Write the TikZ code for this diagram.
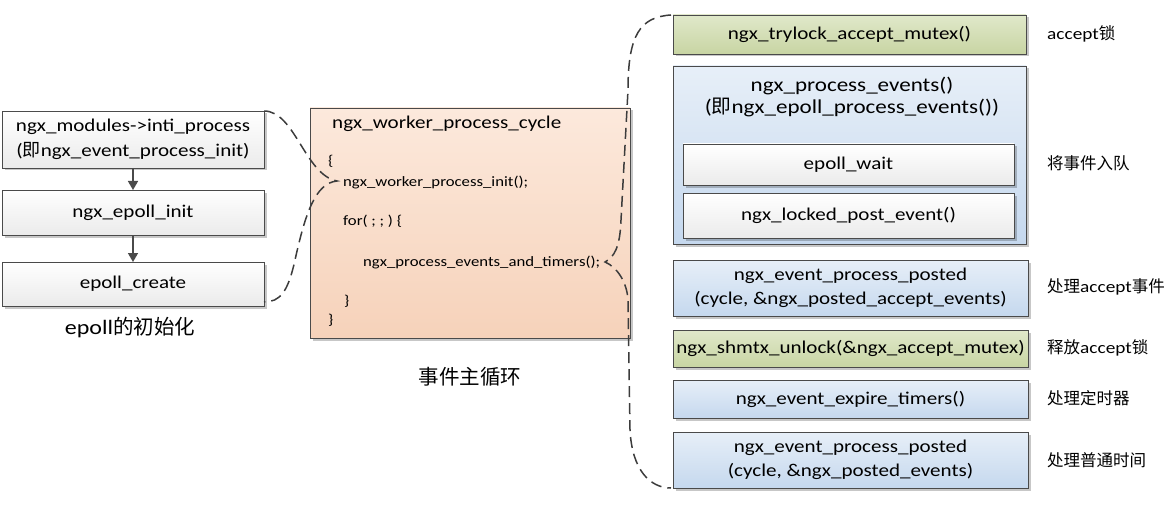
\documentclass[tikz,border=0pt]{standalone}
\usepackage{fontspec}
\setmainfont{Carlito}[FakeStretch=1.17]
\newfontfamily\cjk{Noto Sans CJK SC}
\newcommand{\zh}[1]{{\cjk #1}}
\usetikzlibrary{arrows.meta,shadows}
\definecolor{bordercol}{HTML}{4A4A4A}
\definecolor{dashcol}{HTML}{3C3C3C}
\begin{document}
\begin{tikzpicture}[x=1pt,y=-1pt,
  basebox/.style={draw=bordercol,line width=0.8pt,inner sep=0pt,outer sep=0pt,align=center,
    drop shadow={shadow xshift=2.5pt,shadow yshift=-2.5pt,fill=black,opacity=0.22},
    font=\fontsize{18}{24.5}\selectfont},
  graybox/.style={basebox,top color=white,bottom color=black!8},
  greenbox/.style={basebox,top color={rgb,255:red,224;green,232;blue,202},bottom color={rgb,255:red,200;green,213;blue,163}},
  bluebox/.style={basebox,top color={rgb,255:red,231;green,239;blue,248},bottom color={rgb,255:red,197;green,216;blue,238}},
  peachbox/.style={basebox,top color={rgb,255:red,252;green,233;blue,220},bottom color={rgb,255:red,246;green,210;blue,186}},
  codetext/.style={anchor=west,inner sep=0pt,font=\fontsize{14.3}{17}\selectfont},
  sidelabel/.style={anchor=west,inner sep=0pt,font=\fontsize{16.5}{19}\selectfont},
  biglabel/.style={inner sep=0pt,font=\fontsize{20.5}{24}\selectfont},
  flowarrow/.style={draw=bordercol,line width=1.6pt,-{Triangle[width=10pt,length=9pt]}},
  bracecurve/.style={draw=dashcol,line width=1.5pt,dash pattern=on 11pt off 6pt}]
\useasboundingbox (0,0) rectangle (1166,505);

% left column
\node[graybox,minimum width=262pt,minimum height=57pt] (b1) at (133,139.5)
  {ngx\_modules->inti\_process\\(\zh{即}ngx\_event\_process\_init)};
\node[graybox,minimum width=262pt,minimum height=45pt] (b2) at (133,212.5) {ngx\_epoll\_init};
\node[graybox,minimum width=262pt,minimum height=44pt] (b3) at (133,284) {epoll\_create};
\draw[flowarrow] (b1) -- (b2);
\draw[flowarrow] (b2) -- (b3);
\node[biglabel] (lab1) at (130,327) {epoll\zh{的初始化}};

% middle box
\node[peachbox,minimum width=320pt,minimum height=230pt] (mid) at (470,223) {};
\node[anchor=west,inner sep=0pt,font=\fontsize{18}{22}\selectfont] (title) at (332,124) {ngx\_worker\_process\_cycle};
\node[codetext] (c1) at (328,161) {\{};
\node[codetext] (c2) at (343,182) {ngx\_worker\_process\_init();};
\node[codetext] (c3) at (343,221) {for( ; ; ) \{};
\node[codetext] (c4) at (363,262) {ngx\_process\_events\_and\_timers();};
\node[codetext] (c5) at (344,301) {\}};
\node[codetext] (c6) at (328,320) {\}};
\node[biglabel] (lab2) at (470,377) {\zh{事件主循环}};

% right column
\node[greenbox,minimum width=353pt,minimum height=39pt] (t1) at (849.5,34.5) {ngx\_trylock\_accept\_mutex()};
\node[bluebox,minimum width=353pt,minimum height=178pt] (pe) at (849.5,155) {};
\node[inner sep=0pt,align=center,font=\fontsize{19.7}{22.5}\selectfont] (peh) at (852,97)
  {ngx\_process\_events()\\(\zh{即}ngx\_epoll\_process\_events())};
\node[graybox,minimum width=331pt,minimum height=41pt] (ew) at (848.5,164.5) {epoll\_wait};
\node[graybox,minimum width=331pt,minimum height=45pt] (lp) at (848.5,215.5) {ngx\_locked\_post\_event()};
\node[bluebox,minimum width=355pt,minimum height=56pt] (pp1) at (850.5,288)
  {ngx\_event\_process\_posted\\(cycle, \&ngx\_posted\_accept\_events)};
\node[greenbox,minimum width=355pt,minimum height=37pt] (un) at (850.5,348.5) {ngx\_shmtx\_unlock(\&ngx\_accept\_mutex)};
\node[bluebox,minimum width=355pt,minimum height=38pt] (et) at (850.5,399) {ngx\_event\_expire\_timers()};
\node[bluebox,minimum width=355pt,minimum height=56pt] (pp2) at (850.5,460)
  {ngx\_event\_process\_posted\\(cycle, \&ngx\_posted\_events)};

\node[sidelabel] (s1) at (1047,34) {accept\zh{锁}};
\node[sidelabel] (s2) at (1047,163) {\zh{将事件入队}};
\node[sidelabel] (s3) at (1047,287) {\zh{处理}accept\zh{事件}};
\node[sidelabel] (s4) at (1047,348) {\zh{释放}accept\zh{锁}};
\node[sidelabel] (s5) at (1047,398) {\zh{处理定时器}};
\node[sidelabel] (s6) at (1047,460) {\zh{处理普通时间}};

% dashed braces
\coordinate (tipL) at (337,181);
\coordinate (tipR) at (605,262);
\draw[bracecurve] (b1.north east) .. controls (295,111) and (305,175) .. (tipL)
  .. controls (315,183) and (305,215) .. (295,260) .. controls (288,292) and (280,302) .. ([yshift=4pt]b3.south east);
\draw[bracecurve] ([xshift=-2pt]t1.north west) .. controls (640,17) and (628,35) .. (628,90) -- (621,220)
  .. controls (620,248) and (614,257) .. (tipR) .. controls (617,267) and (627,282) .. (628,300)
  -- (630,430) .. controls (632,470) and (650,488) .. ([xshift=-2pt]pp2.south west);
\end{tikzpicture}
\end{document}
